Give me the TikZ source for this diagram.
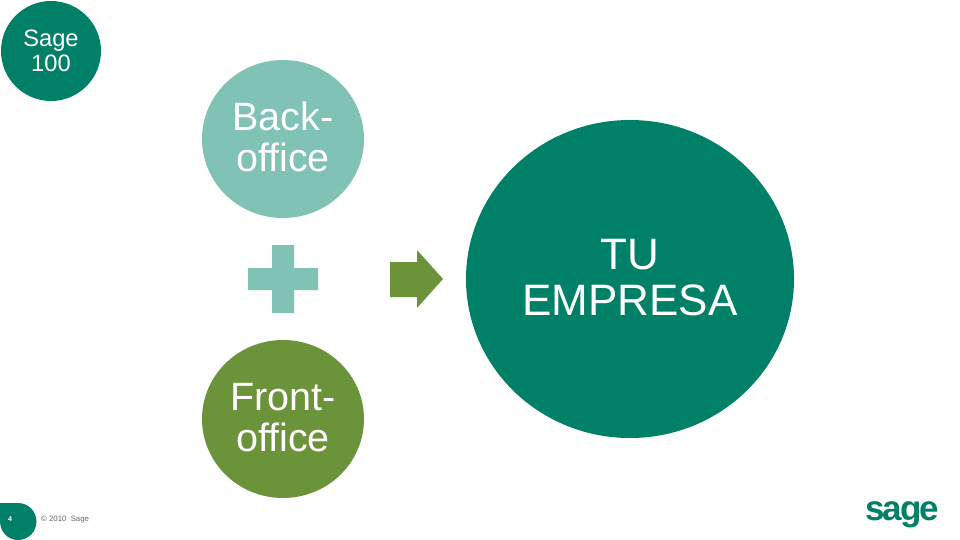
\documentclass[tikz,border=0pt]{standalone}
\usepackage{fontspec}
\setmainfont[Ligatures=NoCommon]{Liberation Sans}
\usetikzlibrary{shapes.geometric}
\definecolor{sagegreen}{HTML}{008067}
\definecolor{palegreen}{HTML}{80C2B3}
\definecolor{olivegreen}{HTML}{6B9339}
\definecolor{textgrey}{HTML}{666666}
\begin{document}
\begin{tikzpicture}[x=1pt,y=-1pt]
	\tikzstyle{bubble}=[ellipse,text=white,align=center,inner sep=0pt]
	\useasboundingbox (0,0) rectangle (960,540);
	\node[bubble,fill=sagegreen,minimum width=100pt,minimum height=100pt,font=\fontsize{23.7}{25}\selectfont](v1) at (51,51) {Sage\\100};
	\node[bubble,fill=palegreen,minimum width=162pt,minimum height=158pt,font=\fontsize{39.5}{41}\selectfont](v2) at (283,139) {Back-\\office\\[-36pt]};
	\node[bubble,fill=olivegreen,minimum width=162pt,minimum height=158pt,font=\fontsize{39.5}{41}\selectfont](v3) at (283,419) {Front-\\office\\[-37pt]};
	\node[bubble,fill=sagegreen,minimum width=328pt,minimum height=318pt,font=\fontsize{44}{46}\selectfont](v4) at (630,279) {TU\\EMPRESA\\[-42pt]};
	% plus and arrow
	\fill[palegreen] (272,245) -- (294,245) -- (294,268) -- (318,268) -- (318,290) -- (294,290) -- (294,313) -- (272,313) -- (272,290) -- (248,290) -- (248,268) -- (272,268) -- cycle;
	\fill[olivegreen] (390,262) -- (417,262) -- (417,250) -- (443,279) -- (417,308) -- (417,297) -- (390,297) -- cycle;
	% footer
	\fill[sagegreen] (0,503) -- (18,503) arc (-90:90:18.5) .. controls (8,540) and (0,532) .. (0,521) -- cycle;
	\node[text=white,font=\bfseries\fontsize{7}{8}\selectfont](v5) at (10,519.5) {4};
	\node[text=textgrey,anchor=west,inner sep=0pt,font=\fontsize{7.8}{8}\selectfont](v6) at (41,519.5) {© 2010\ \ Sage};
	\node[text=sagegreen,inner sep=0pt,font=\bfseries\fontsize{35}{35}\selectfont\addfontfeatures{LetterSpace=-6}](v7) at (902,515) {sage};
\end{tikzpicture}
\end{document}
